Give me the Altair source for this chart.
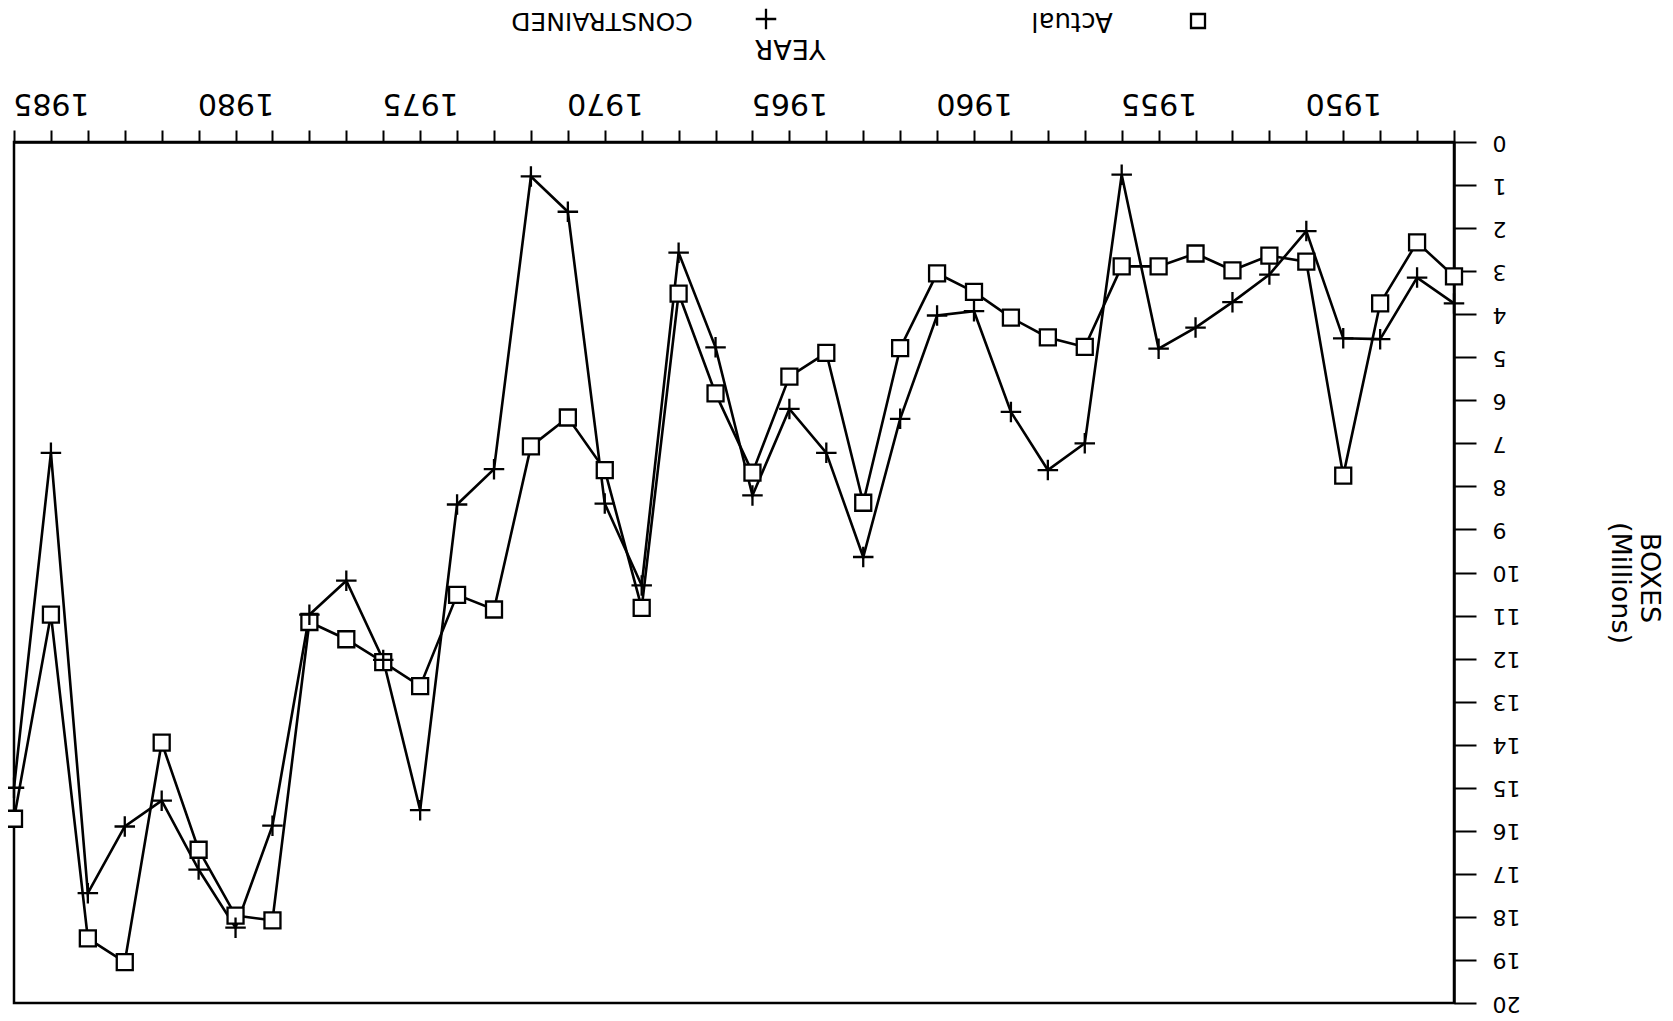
import altair as alt
import pandas as pd

years = list(range(1947, 1987))
actual = [3.12, 2.33, 3.75, 7.75, 2.78, 2.64, 2.98, 2.59, 2.89, 2.89,
          4.76, 4.54, 4.08, 3.48, 3.05, 4.79, 8.38, 4.90, 5.45, 7.68,
          5.84, 3.52, 10.82, 7.62, 6.40, 7.07, 10.86, 10.52, 12.64, 12.08,
          11.55, 11.15, 18.08, 17.97, 16.44, 13.95, 19.05, 18.5, 10.98, 15.72]
constrained = [3.75, 3.15, 4.58, 4.56, 2.07, 3.08, 3.72, 4.31, 4.8, 0.76,
               7.0, 7.62, 6.27, 3.93, 4.03, 6.43, 9.64, 7.22, 6.2, 8.21,
               4.77, 2.57, 10.3, 8.4, 1.62, 0.8, 7.6, 8.42, 15.52, 12.03,
               10.19, 10.98, 15.88, 18.25, 16.9, 15.3, 15.9, 17.45, 7.22, 15.0]
series_names = ["Actual", "CONSTRAINED"]
x_title = "YEAR"
y_title = ["BOXES", "(Millions)"]
x_ticks = list(range(1947, 1987))
y_ticks = list(range(0, 21))

df = pd.DataFrame({"year": years, "Actual": actual, "CONSTRAINED": constrained})
long_df = df.melt(id_vars="year", var_name="series", value_name="boxes")

PLUS = "M-1,0L1,0M0,-1L0,1"
FONT = "DejaVu Sans"

x_enc = alt.X(
    "year:Q",
    scale=alt.Scale(domain=[1947, 1986], reverse=True, nice=False, zero=False),
    axis=alt.Axis(
        orient="top", values=x_ticks, format="d",
        labelExpr="datum.value % 5 == 0 ? datum.label : ''",
        labelAngle=180, labelAlign="center", labelBaseline="top",
        labelFontSize=30, labelFont=FONT, labelColor="black",
        labelPadding=13, labelFlush=False, labelOverlap=False,
        tickSize=12, tickWidth=2, tickColor="black",
        domainColor="black", domainWidth=2.5, grid=False, title=None,
    ),
)
y_enc = alt.Y(
    "boxes:Q",
    scale=alt.Scale(domain=[0, 20], reverse=True, nice=False, zero=False),
    axis=alt.Axis(
        orient="right", values=y_ticks,
        labelAngle=180, labelAlign="right", labelBaseline="middle",
        labelFontSize=22, labelFont=FONT, labelColor="black",
        labelPadding=16, labelFlush=False, labelOverlap=False,
        tickSize=22, tickWidth=2, tickColor="black",
        domainColor="black", domainWidth=2.5, grid=False, title=None,
    ),
)

base = alt.Chart(long_df).encode(x=x_enc, y=y_enc)

act = base.transform_filter(alt.datum.series == series_names[0])
con = base.transform_filter(alt.datum.series == series_names[1])

act_line = act.mark_line(color="black", strokeWidth=2.6)
con_line = con.mark_line(color="black", strokeWidth=2.6)
act_pts = act.mark_point(shape="square", size=256, filled=True, fill="white",
                         stroke="black", strokeWidth=2.3, opacity=1)
con_pts = con.mark_point(shape=PLUS, size=420, filled=False, stroke="black",
                         strokeWidth=2.3, opacity=1)


def text_at(txt, x, y, size, angle):
    return alt.Chart(pd.DataFrame({"t": [txt]})).mark_text(
        font=FONT, fontSize=size, angle=angle, align="center",
        baseline="middle", color="black"
    ).encode(text="t:N", x=alt.value(x), y=alt.value(y))


def sym_at(shape, x, y, size, filled):
    kw = dict(shape=shape, size=size, stroke="black", strokeWidth=2.3, opacity=1)
    if filled:
        kw.update(filled=True, fill="white")
    else:
        kw.update(filled=False)
    return alt.Chart(pd.DataFrame({"t": [0]})).mark_point(**kw).encode(
        x=alt.value(x), y=alt.value(y))


annotations = [
    text_at(x_title, 776, -94, 27, 180),
    text_at(series_names[1], 588, -121, 25, 180),
    text_at(series_names[0], 1058, -121, 26, 180),
    sym_at(PLUS, 752, -123, 420, False),
    sym_at("square", 1184, -121, 196, True),
    text_at(y_title[0], 1635, 436, 27, 90),
    text_at(y_title[1], 1606, 441, 27, 90),
]

chart = alt.layer(act_line, con_line, act_pts, con_pts, *annotations).properties(
    width=1440, height=861,
    autosize=alt.AutoSizeParams(type="none"),
    padding={"left": 6, "top": 134, "right": 211, "bottom": 16},
    background="white",
).configure_view(stroke="black", strokeWidth=2.5)

chart.save("out.html", embed_options={"renderer": "svg", "actions": False})
